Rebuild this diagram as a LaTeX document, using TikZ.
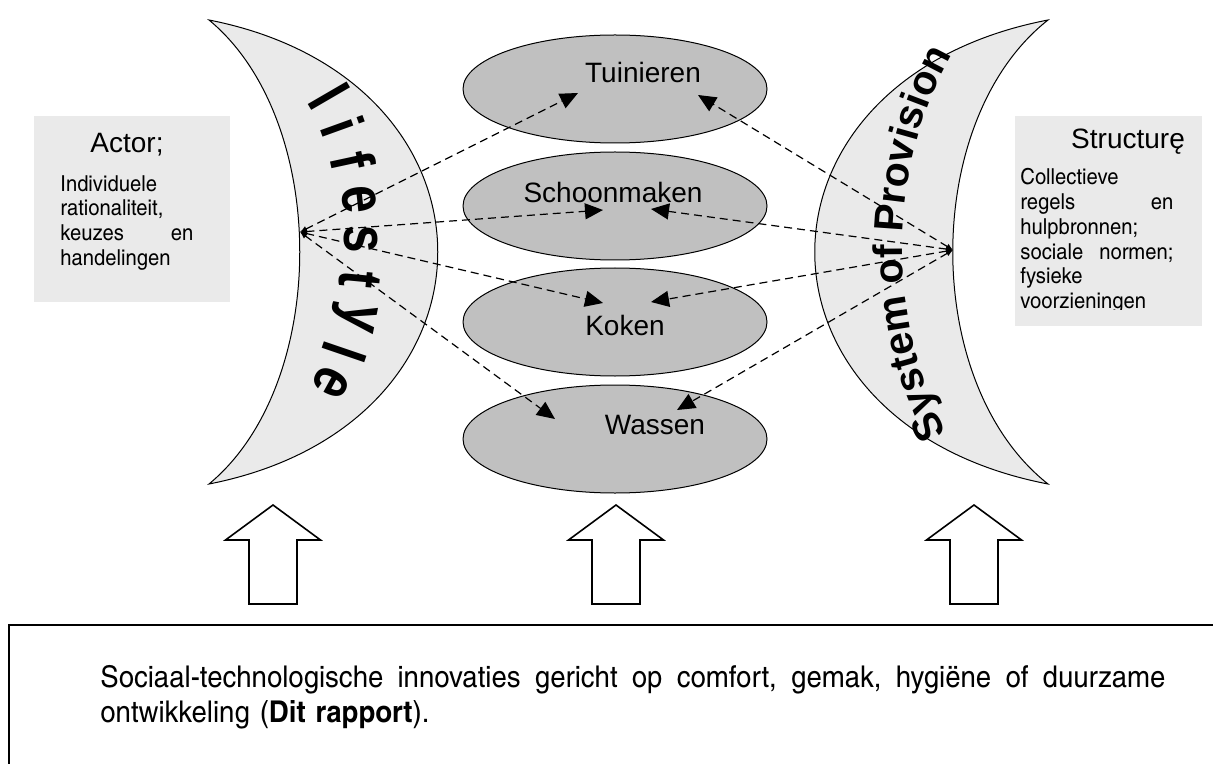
\documentclass[tikz,border=0pt]{standalone}
\usepackage{fontspec}
\setmainfont{Liberation Sans}
\newfontfamily\narrowfont{texgyreheroscn}[Extension=.otf,UprightFont=*-regular,BoldFont=*-bold,FakeStretch=1.12]
\newfontfamily\artfont[FakeStretch=0.8]{Liberation Sans}
\usetikzlibrary{
  shapes.geometric,
  arrows.meta,
  positioning,
  calc,
  decorations.text
}
\definecolor{moonfill}{RGB}{234, 234, 234}
\definecolor{boxfill}{RGB}{234, 234, 234}
\definecolor{actfill}{RGB}{192, 192, 192}
\newcommand{\provfont}{\bfseries\fontsize{20.5}{24}\selectfont}
\tikzset{
moon/.style={
  draw=black,
  line width=0.5pt,
  fill=moonfill
},
infobox/.style={
  fill=boxfill,
  inner sep=0pt
},
boxtitle/.style={
  font=\fontsize{14}{16}\selectfont,
  inner sep=0pt
},
boxtext/.style={
  font=\narrowfont\fontsize{11}{12.4}\selectfont,
  align=left,
  inner sep=0pt,
  anchor=north west
},
activity/.style={
  ellipse,
  draw=black,
  line width=0.5pt,
  fill=actfill,
  minimum width=152pt,
  minimum height=54pt,
  inner sep=0pt
},
actlabel/.style={
  font=\fontsize{14}{16}\selectfont,
  inner sep=0pt
},
artletter/.style={
  font=\artfont\bfseries\fontsize{31}{33}\selectfont,
  sloped,
  allow upside down,
  inner sep=0pt
},
blockarrow/.style={
  draw=black,
  line width=0.8pt,
  fill=white
},
basetext/.style={
  font=\narrowfont\fontsize{15}{17.5}\selectfont,
  text width=532.5pt,
  align=left,
  inner sep=0pt,
  anchor=north west
},
link/.style={
  {Latex[length=3.5pt,width=3pt]}-{Triangle[length=9pt,width=8pt]},
  dash pattern=on 4pt off 2.5pt,
  line width=0.6pt
}
}

\begin{document}
\begin{tikzpicture}[x=0.5pt, y=-0.5pt]
  \useasboundingbox (0,0) rectangle (1213,764);
  \clip (0,0) rectangle (1213,764);

  % Crescents
  \path[moon] (209,20) .. controls (514,80) and (514,424) .. (209,484)
    .. controls (330,384) and (330,120) .. (209,20) -- cycle;
  \path[moon] (1048,20) .. controls (737,80) and (737,424) .. (1048,484)
    .. controls (921,384) and (921,120) .. (1048,20) -- cycle;

  % Actor box
  \node[infobox, minimum width=98pt, minimum height=93pt] (actorbox) at (132,209) {};
  \node[boxtitle] (actor) at (127,145) {Actor;};
  \node[boxtext, text width=66.5pt] (actortext) at (60,175)
    {Individuele\\rationaliteit,\\keuzes\hfill en\\handelingen};

  % Structure box
  \node[infobox, minimum width=93.5pt, minimum height=105pt] (structbox) at (1108.5,221) {};
  \node[boxtitle] (struct) at (1128,142) {Structurę};
  \begin{scope}
    \clip (1015,116) rectangle (1202,309);
    \node[boxtext, text width=76.5pt] (structtext) at (1020,168)
      {Collectieve\\regels\hfill en\\hulpbronnen;\\sociale\hfill normen;\\fysieke\\voorzieningen};
  \end{scope}

  % Practices
  \node[activity] (tuin) at (615,89) {};
  \node[activity] (schoon) at (615,206) {};
  \node[activity] (koken) at (615,322) {};
  \node[activity] (wassen) at (615,439) {};
  \node[actlabel] (tuinlabel) at ($(tuin)+(28,-17)$) {Tuinieren};
  \node[actlabel] (schoonlabel) at ($(schoon)+(-2,-14)$) {Schoonmaken};
  \node[actlabel] (kokenlabel) at ($(koken)+(10,3)$) {Koken};
  \node[actlabel] (wassenlabel) at ($(wassen)+(40,-14)$) {Wassen};

  % Crescent lettering
  \foreach \ch [count=\i from 0] in {l,i,f,e,s,t,y,l,e} {
    \pgfmathsetmacro\p{0.07+0.107*\i}
    \path (318,80) .. controls (375,150) and (375,330) .. (320,400)
      node[artletter, pos=\p] (life\i) {\ch};
  }
  \path[decorate, decoration={text along path, text align=center,
      text={|\provfont|System of Provision}}]
    (958,452) .. controls (883,330) and (883,160) .. (963,36);

  % Block arrows
  \foreach \cx in {273,616,974} {
    \draw[blockarrow] ({\cx-24},604) -- ({\cx-24},540) -- ({\cx-47.5},540)
      -- (\cx,505) -- ({\cx+47.5},540) -- ({\cx+24},540) -- ({\cx+24},604) -- cycle;
  }

  % Bottom frame
  \draw[line width=1pt] (1225,625) -- (9,625) -- (9,775);
  \node[basetext] (summary) at (100,665)
    {\hbox to 532.5pt{Sociaal-technologische\hfill innovaties\hfill gericht\hfill op\hfill
     comfort,\hfill gemak,\hfill hygiëne\hfill of\hfill duurzame}\\
     ontwikkeling (\textbf{Dit rapport}).};

  % Links
  \coordinate (lsrc) at (300,232);
  \coordinate (rsrc) at (953,250);
  \coordinate (tuinL) at ($(tuin)+(-37,4)$);
  \coordinate (tuinR) at ($(tuin)+(83,6)$);
  \coordinate (schoonL) at ($(schoon)+(-12,4)$);
  \coordinate (schoonR) at ($(schoon)+(36,3)$);
  \coordinate (kokenL) at ($(koken)+(-12,-19)$);
  \coordinate (kokenR) at ($(koken)+(36,-20)$);
  \coordinate (wassenL) at ($(wassen)+(-60,-20)$);
  \coordinate (wassenR) at ($(wassen)+(62,-29)$);
  \foreach \t in {tuinL,schoonL,kokenL,wassenL}
    \draw[link] (lsrc) -- (\t);
  \foreach \t in {tuinR,schoonR,kokenR,wassenR}
    \draw[link] (rsrc) -- (\t);
\end{tikzpicture}
\end{document}
